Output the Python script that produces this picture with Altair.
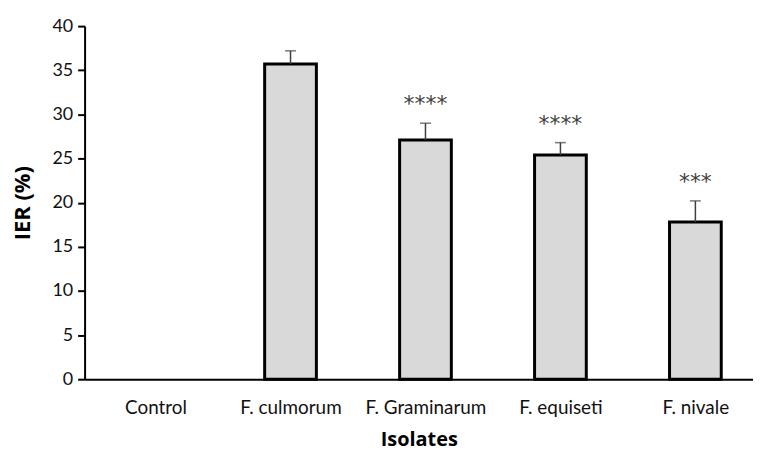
import json
import altair as alt
import pandas as pd

categories = ["Control", "F. culmorum", "F.  Graminarum", "F. equiseti", "F. nivale"]
values = [0.0, 35.7, 27.1, 25.4, 17.8]
errors = [0.0, 1.5, 1.9, 1.4, 2.4]
signif = ["", "", "****", "****", "***"]
y_ticks = [0, 5, 10, 15, 20, 25, 30, 35, 40]

df = pd.DataFrame({
    "idx": list(range(len(categories))),
    "cat": categories,
    "val": values,
    "err": errors,
    "sig": signif,
})
df["top"] = df["val"] + df["err"]

FONT = "Lato"
x_scale = alt.Scale(domain=[-0.489, 4.39], nice=False, zero=False)
y_scale = alt.Scale(domain=[0, 40], nice=False)

label_expr = json.dumps(categories) + "[datum.value]"

x_enc = alt.X(
    "idx:Q", scale=x_scale,
    axis=alt.Axis(
        title="Isolates", values=list(range(len(categories))), labelExpr=label_expr,
        grid=False, ticks=False, domainColor="black", domainWidth=2,
        labelFont=FONT, labelFontSize=19, labelColor="#111111", labelPadding=19,
        labelFlush=False, labelOverlap=False,
        titleFont="Open Sans", titleFontSize=20, titleFontWeight="bold", titleColor="black",
        titlePadding=13,
    ),
)
y_enc = alt.Y(
    "val:Q", scale=y_scale,
    axis=alt.Axis(
        title="IER (%)", values=y_ticks, grid=False, ticks=True, tickSize=7,
        tickColor="black", tickWidth=2, domainColor="black", domainWidth=2,
        labelFont=FONT, labelFontSize=18, labelColor="#111111", labelPadding=5,
        titleFont="Open Sans", titleFontSize=22, titleFontWeight="bold", titleColor="black",
        titlePadding=18,
    ),
)

base = alt.Chart(df)

bars = base.transform_filter("datum.val > 0").mark_bar(
    size=52, fill="#d9d9d9", stroke="black", strokeWidth=3
).encode(x=x_enc, y=y_enc)

err_line = base.transform_filter("datum.err > 0").mark_rule(
    color="#404040", strokeWidth=1.5
).encode(x="idx:Q", y="val:Q", y2="top:Q")

err_cap = base.transform_filter("datum.err > 0").mark_tick(
    color="#404040", thickness=1.5, size=11, orient="horizontal"
).encode(x="idx:Q", y="top:Q")

stars = base.transform_filter("datum.sig != ''").mark_text(
    font="DejaVu Sans", fontSize=22, color="#404040", baseline="middle", dy=-19
).encode(x="idx:Q", y="top:Q", text="sig:N")

chart = alt.layer(bars, err_line, err_cap, stars).properties(
    width=672, height=355,
    autosize=alt.AutoSizeParams(type="none"),
    padding={"left": 77, "top": 17, "right": 0, "bottom": 75},
).configure_view(stroke=None)

chart.save("out.html", embed_options={"renderer": "svg", "actions": False})
